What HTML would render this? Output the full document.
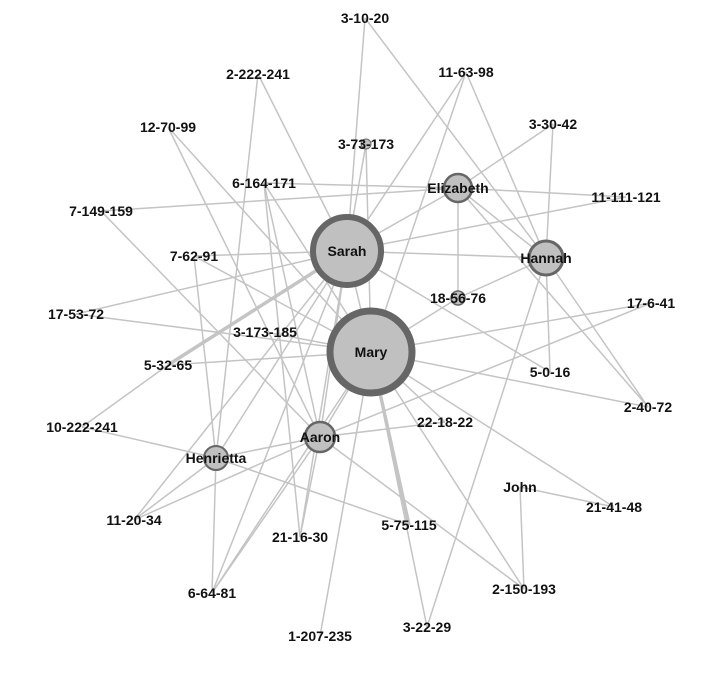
<!DOCTYPE html>
<html><head><meta charset="utf-8"><style>
html,body{margin:0;padding:0;background:#fff;}
svg{display:block}
text{font-family:"Liberation Sans",Arial,sans-serif;font-weight:bold;font-size:14px;fill:#111;text-anchor:middle;dominant-baseline:central}
</style></head><body>
<svg width="724" height="678" viewBox="0 0 724 678" xmlns="http://www.w3.org/2000/svg">
<g stroke="#c4c4c4" stroke-width="1.5" fill="none" id="edges"></g>
<g id="nodes"></g>
<g id="labels"></g>
<script>
var P={
"3-10-20":[365,18],"11-63-98":[466,72],"2-222-241":[258,74],"12-70-99":[168,127],"3-30-42":[553,124],
"3-73-173":[366,144],"6-164-171":[264,183],"Elizabeth":[458,188],"11-111-121":[626,197],"7-149-159":[101,211],
"Sarah":[347,251],"7-62-91":[194,256],"Hannah":[546,258],"18-56-76":[458,298],"17-6-41":[651,303],
"17-53-72":[76,314],"3-173-185":[265,332],"Mary":[371,352],"5-32-65":[168,365],"5-0-16":[550,372],
"2-40-72":[648,407],"22-18-22":[445,422],"10-222-241":[82,427],"Aaron":[320,437],"Henrietta":[216,458],
"John":[520,487],"21-41-48":[614,507],"11-20-34":[134,520],"21-16-30":[300,537],"5-75-115":[409,525],
"2-150-193":[524,589],"6-64-81":[212,593],"1-207-235":[320,636],"3-22-29":[427,627]};
var E=[["3-10-20","Sarah"],["3-10-20","Hannah"],["11-63-98","Sarah"],["11-63-98","Mary"],["11-63-98","Hannah"],
["2-222-241","Sarah"],["2-222-241","Henrietta"],["12-70-99","Mary"],["12-70-99","Aaron"],
["6-164-171","Elizabeth"],["6-164-171","Mary"],["6-164-171","21-16-30"],["6-164-171","Aaron"],
["7-149-159","Elizabeth"],["7-149-159","Aaron"],["3-73-173","Sarah"],["3-73-173","Mary"],
["Elizabeth","Sarah"],["Elizabeth","3-30-42"],["Elizabeth","11-111-121"],["Elizabeth","18-56-76"],["Elizabeth","Hannah"],["Elizabeth","2-40-72"],
["11-111-121","Sarah"],["7-62-91","Sarah"],["7-62-91","Henrietta"],["7-62-91","Mary"],
["Hannah","Sarah"],["Hannah","18-56-76"],["Hannah","3-30-42"],["Hannah","5-0-16"],["Hannah","2-40-72"],["Hannah","3-22-29"],
["17-6-41","Mary"],["17-6-41","Aaron"],["17-53-72","Sarah"],["17-53-72","Mary"],
["5-32-65","Mary"],["5-32-65","10-222-241"],["Sarah","5-0-16"],["Sarah","Aaron"],["Sarah","Henrietta"],["Sarah","11-20-34"],["Sarah","6-64-81"],["Sarah","21-16-30"],
["Mary","2-40-72"],["Mary","22-18-22"],["Mary","21-41-48"],["Mary","2-150-193"],["Mary","3-22-29"],["Mary","1-207-235"],["Mary","Aaron"],["Mary","6-64-81"],["Mary","18-56-76"],["Mary","Sarah"],
["Aaron","22-18-22"],["Aaron","Henrietta"],["Aaron","21-16-30"],["Aaron","6-64-81"],["Aaron","2-150-193"],["Aaron","11-20-34"],
["Henrietta","10-222-241"],["Henrietta","11-20-34"],["Henrietta","6-64-81"],["Henrietta","5-75-115"],
["John","21-41-48"],["John","2-150-193"],["3-173-185","Mary"]];
var T=[["5-32-65","Sarah"],["Mary","5-75-115"]];
var ns="http://www.w3.org/2000/svg";
function add(g,tag,a){var e=document.createElementNS(ns,tag);for(var k in a)e.setAttribute(k,a[k]);document.getElementById(g).appendChild(e);return e;}
E.forEach(function(e){var a=P[e[0]],b=P[e[1]];add("edges","line",{x1:a[0],y1:a[1],x2:b[0],y2:b[1]});});
T.forEach(function(e){var a=P[e[0]],b=P[e[1]];add("edges","line",{x1:a[0],y1:a[1],x2:b[0],y2:b[1],"stroke-width":3.5});});
var C=[["Mary",41,7],["Sarah",34,6],["Elizabeth",14,2.5],["Hannah",17,3],["Aaron",15,2.5],["Henrietta",12,2],["18-56-76",7,1.5],["3-73-173",5,1]];
C.forEach(function(c){var p=P[c[0]];add("nodes","circle",{cx:p[0],cy:p[1],r:c[1],fill:"#c0c0c0",stroke:"#666","stroke-width":c[2]});});
for(var k in P){var t=add("labels","text",{x:P[k][0],y:P[k][1]});t.textContent=k;if(k=="Mary"||k=="Sarah")t.setAttribute("font-size","16");}
</script>
</svg>
</body></html>
